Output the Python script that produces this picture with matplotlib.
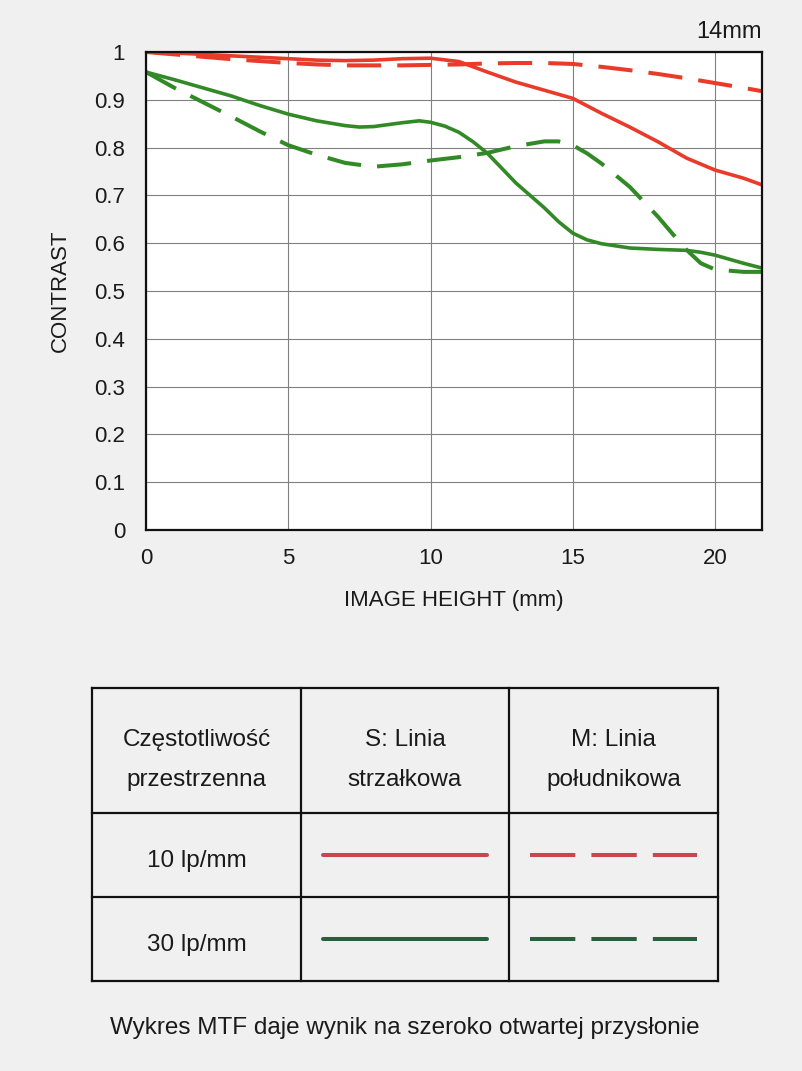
import matplotlib.pyplot as plt

# -------------------------------------------------
# DATA
# -------------------------------------------------
XMAX = 21.65
red_s_x = [0, 1, 2, 3, 4, 5, 6, 7, 8, 9, 10, 11, 12, 13, 14, 15, 16, 17, 18, 19, 20, 21, 21.65]
red_s_y = [1.0, 0.998, 0.995, 0.992, 0.989, 0.986, 0.983, 0.982, 0.983, 0.986, 0.987, 0.980,
           0.958, 0.937, 0.920, 0.903, 0.872, 0.843, 0.812, 0.778, 0.753, 0.736, 0.722]

red_m_x = [0, 1, 2, 3, 4, 5, 6, 7, 8, 9, 10, 11, 12, 13, 14, 15, 16, 17, 18, 19, 20, 21, 21.65]
red_m_y = [1.0, 0.995, 0.99, 0.985, 0.981, 0.977, 0.974, 0.972, 0.972, 0.972, 0.973, 0.974,
           0.976, 0.977, 0.977, 0.975, 0.969, 0.962, 0.954, 0.945, 0.935, 0.925, 0.918]

green_s_x = [0, 1, 2, 3, 4, 5, 6, 7, 7.5, 8, 9, 9.6, 10, 10.5, 11, 11.5, 12, 12.5, 13, 13.5,
             14, 14.5, 15, 15.5, 16, 17, 18, 19, 19.5, 20, 21, 21.65]
green_s_y = [0.958, 0.942, 0.925, 0.908, 0.888, 0.870, 0.856, 0.846, 0.843, 0.844, 0.852, 0.856,
             0.853, 0.845, 0.832, 0.812, 0.788, 0.757, 0.726, 0.700, 0.674, 0.645, 0.621, 0.607,
             0.599, 0.590, 0.587, 0.585, 0.581, 0.575, 0.558, 0.548]

green_m_x = [0, 1, 2, 3, 4, 5, 6, 7, 8, 9, 10, 11, 12, 13, 14, 14.5, 15, 15.5, 16, 17, 18,
             18.5, 19, 19.5, 20, 21, 21.65]
green_m_y = [0.958, 0.925, 0.895, 0.865, 0.834, 0.805, 0.785, 0.768, 0.760, 0.765, 0.773, 0.780,
             0.789, 0.803, 0.813, 0.813, 0.805, 0.788, 0.767, 0.718, 0.655, 0.620, 0.586, 0.558,
             0.545, 0.540, 0.540]

x_ticks = [0, 5, 10, 15, 20]
y_ticks = [0, 0.1, 0.2, 0.3, 0.4, 0.5, 0.6, 0.7, 0.8, 0.9, 1]
y_tick_labels = ["0", "0.1", "0.2", "0.3", "0.4", "0.5", "0.6", "0.7", "0.8", "0.9", "1"]

header = [["Częstotliwość", "przestrzenna"], ["S: Linia", "strzałkowa"], ["M: Linia", "południkowa"]]
rows = ["10 lp/mm", "30 lp/mm"]

RED = "#ea3a2a"
GREEN = "#328a26"
LEG_RED = "#c9464e"
LEG_GREEN = "#27603c"
BG = "#f0f0f0"
TXT = "#1a1a1a"

plt.rcParams["font.family"] = ["Liberation Sans", "DejaVu Sans"]

W, H = 802, 1071
fig = plt.figure(figsize=(W / 100, H / 100), dpi=100, facecolor=BG)

# -------------------------------------------------
# OVERLAY (table + captions) in pixel coordinates
# -------------------------------------------------
ov = fig.add_axes([0, 0, 1, 1])
ov.set_xlim(0, W)
ov.set_ylim(H, 0)
ov.axis("off")
ov.patch.set_alpha(0)

col_x = [92, 301, 509, 718]
row_y = [688, 813, 897, 981]
for cx in col_x:
    ov.plot([cx, cx], [row_y[0], row_y[-1]], color="#111111", lw=1.6, solid_capstyle="projecting")
for ry in row_y:
    ov.plot([col_x[0], col_x[-1]], [ry, ry], color="#111111", lw=1.6, solid_capstyle="projecting")

fs = 17.5
for i, (l1, l2) in enumerate(header):
    cx = (col_x[i] + col_x[i + 1]) / 2
    ov.text(cx, 740, l1, ha="center", va="center", fontsize=fs, color=TXT)
    ov.text(cx, 780, l2, ha="center", va="center", fontsize=fs, color=TXT)

for j, lab in enumerate(rows):
    cy = (row_y[j + 1] + row_y[j + 2]) / 2
    ov.text((col_x[0] + col_x[1]) / 2, cy + 6, lab, ha="center", va="center", fontsize=17.5, color=TXT)
    c = LEG_RED if j == 0 else LEG_GREEN
    ov.plot([323, 487], [cy, cy], color=c, lw=2.9, solid_capstyle="round")
    ov.plot([530, 697], [cy, cy], color=c, lw=2.9, dashes=(11.25, 4.0), dash_capstyle="butt")

ov.text(405, 1028, "Wykres MTF daje wynik na szeroko otwartej przysłonie",
        ha="center", va="center", fontsize=17.5, color=TXT)
ov.text(762, 32, "14mm", ha="right", va="center", fontsize=17, color=TXT)

# -------------------------------------------------
# MTF PLOT
# -------------------------------------------------
ax = fig.add_axes([146 / W, 1 - 530 / H, (762 - 146) / W, (530 - 52) / H])
ax.set_facecolor("white")
ax.set_xlim(0, XMAX)
ax.set_ylim(0, 1)

ax.plot(red_s_x, red_s_y, color=RED, lw=2.6, zorder=3)
ax.plot(red_m_x, red_m_y, color=RED, lw=2.9, dashes=(8.5, 4.0), zorder=3)
ax.plot(green_s_x, green_s_y, color=GREEN, lw=2.6, zorder=3)
ax.plot(green_m_x, green_m_y, color=GREEN, lw=2.9, dashes=(8.5, 4.0), zorder=3)

ax.set_xticks(x_ticks)
ax.set_yticks(y_ticks)
ax.set_yticklabels(y_tick_labels)
ax.grid(True, color="#808080", lw=0.8)
ax.tick_params(length=0, labelsize=16, colors=TXT)
ax.tick_params(axis="y", pad=15)
ax.tick_params(axis="x", pad=13)
for s in ax.spines.values():
    s.set_linewidth(1.6)
    s.set_color("#111111")
    s.set_zorder(4)

ax.set_xlabel("IMAGE HEIGHT (mm)", fontsize=16, color=TXT, labelpad=15)
ax.set_ylabel("CONTRAST", fontsize=16, color=TXT, labelpad=17)

fig.savefig("out.png", dpi=100, facecolor=BG)
